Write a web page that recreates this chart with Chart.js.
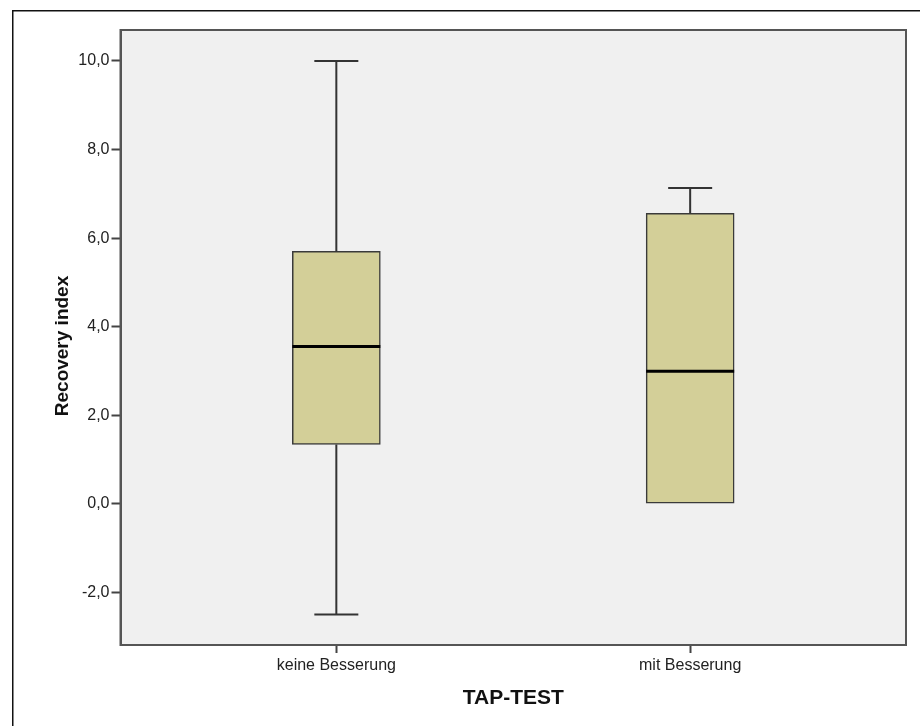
<!DOCTYPE html>
<html>
<head>
<meta charset="utf-8">
<title>Recovery index nach TAP-TEST</title>
<script src="https://cdn.jsdelivr.net/npm/chart.js@4.4.1/dist/chart.umd.min.js"></script>
<style>
  html, body { margin: 0; padding: 0; background: #ffffff; }
  canvas { display: block; }
</style>
</head>
<body>
<canvas id="chart" width="920" height="726"></canvas>
<script>
// Groups on the x axis
const categories = ['keine Besserung', 'mit Besserung'];

// Five-number summary per group
const whiskerLow  = [-2.50, 0.00];
const q1          = [ 1.34, 0.00];
const median      = [ 3.55, 2.99];
const q3          = [ 5.70, 6.56];
const whiskerHigh = [10.00, 7.13];

// Y axis tick values
const yTicks = [-2, 0, 2, 4, 6, 8, 10];

const xTitle = 'TAP-TEST';
const yTitle = 'Recovery index';

const FONT = '"Liberation Sans", Arial, Helvetica, sans-serif';

const fmt = v => v.toFixed(1).replace('.', ',');

// Page frame, plot background and plot border
const framePlugin = {
  id: 'frame',
  beforeDraw(chart) {
    const { ctx, chartArea: a } = chart;
    ctx.save();
    ctx.fillStyle = '#ffffff';
    ctx.fillRect(0, 0, chart.width, chart.height);
    ctx.strokeStyle = '#111111';
    ctx.lineWidth = 1.5;
    ctx.strokeRect(12.75, 10.75, chart.width + 20, chart.height + 20);
    ctx.fillStyle = '#f0f0f0';
    ctx.fillRect(a.left, a.top, a.right - a.left, a.bottom - a.top);
    ctx.restore();
  },
  afterDraw(chart) {
    const { ctx, chartArea: a } = chart;
    ctx.save();
    ctx.strokeStyle = '#555555';
    ctx.lineWidth = 2;
    ctx.strokeRect(a.left, a.top, a.right - a.left, a.bottom - a.top);

    // axis titles
    ctx.fillStyle = '#111111';
    ctx.textAlign = 'center';
    ctx.textBaseline = 'middle';
    ctx.font = 'bold 21px ' + FONT;
    ctx.fillText(xTitle, (a.left + a.right) / 2, 698.5);
    ctx.translate(63, 346);
    ctx.rotate(-Math.PI / 2);
    ctx.font = 'bold 19px ' + FONT;
    ctx.fillText(yTitle, 0, 0);
    ctx.restore();
  }
};

// Whiskers, caps and median lines, drawn from the summary arrays via the scales
const boxPlugin = {
  id: 'boxWhiskers',
  afterDatasetsDraw(chart) {
    const { ctx, scales: { x, y } } = chart;
    const meta = chart.getDatasetMeta(0);
    ctx.save();
    categories.forEach((c, i) => {
      const cx = x.getPixelForValue(i + 1);
      const half = meta.data[i].width / 2;
      const capHalf = half / 2;
      ctx.strokeStyle = '#333333';
      ctx.lineWidth = 2;
      // upper whisker
      if (whiskerHigh[i] > q3[i]) {
        ctx.beginPath();
        ctx.moveTo(cx, y.getPixelForValue(q3[i]));
        ctx.lineTo(cx, y.getPixelForValue(whiskerHigh[i]));
        ctx.moveTo(cx - capHalf, y.getPixelForValue(whiskerHigh[i]));
        ctx.lineTo(cx + capHalf, y.getPixelForValue(whiskerHigh[i]));
        ctx.stroke();
      }
      // lower whisker
      if (whiskerLow[i] < q1[i]) {
        ctx.beginPath();
        ctx.moveTo(cx, y.getPixelForValue(q1[i]));
        ctx.lineTo(cx, y.getPixelForValue(whiskerLow[i]));
        ctx.moveTo(cx - capHalf, y.getPixelForValue(whiskerLow[i]));
        ctx.lineTo(cx + capHalf, y.getPixelForValue(whiskerLow[i]));
        ctx.stroke();
      }
      // median
      ctx.strokeStyle = '#000000';
      ctx.lineWidth = 3;
      ctx.beginPath();
      ctx.moveTo(cx - half, y.getPixelForValue(median[i]));
      ctx.lineTo(cx + half, y.getPixelForValue(median[i]));
      ctx.stroke();
    });
    ctx.restore();
  }
};

new Chart(document.getElementById('chart'), {
  type: 'bar',
  data: {
    datasets: [{
      label: yTitle,
      data: categories.map((c, i) => ({ x: i + 1, y: [q1[i], q3[i]] })),
      backgroundColor: '#d3cf98',
      borderColor: '#3a3a3a',
      borderWidth: 1.5,
      borderSkipped: false,
      barThickness: 88
    }]
  },
  options: {
    responsive: false,
    devicePixelRatio: 1,
    animation: false,
    layout: { padding: { top: 30, right: 14, left: 0, bottom: 0 } },
    plugins: {
      legend: { display: false },
      tooltip: { enabled: false }
    },
    scales: {
      x: {
        type: 'linear',
        min: 0.39,
        max: 2.61,
        offset: false,
        afterFit(scale) { scale.height = 81; },
        afterBuildTicks(scale) { scale.ticks = categories.map((c, i) => ({ value: i + 1 })); },
        ticks: {
          callback: v => categories[v - 1],
          font: { family: FONT, size: 16 },
          color: '#222222',
          padding: 3,
          maxRotation: 0,
          autoSkip: false
        },
        grid: { offset: false, drawOnChartArea: false, tickLength: 8, tickColor: '#444444', tickWidth: 2 },
        border: { display: true, color: '#555555', width: 2 }
      },
      y: {
        type: 'linear',
        min: -3.19,
        max: 10.70,
        afterFit(scale) { scale.width = 120.5; },
        afterBuildTicks(scale) { scale.ticks = yTicks.map(v => ({ value: v })); },
        ticks: {
          callback: v => fmt(v),
          font: { family: FONT, size: 16 },
          color: '#222222',
          padding: 2
        },
        grid: { drawOnChartArea: false, tickLength: 9, tickColor: '#444444', tickWidth: 2 },
        border: { display: true, color: '#555555', width: 2 }
      }
    }
  },
  plugins: [framePlugin, boxPlugin]
});
</script>
</body>
</html>
